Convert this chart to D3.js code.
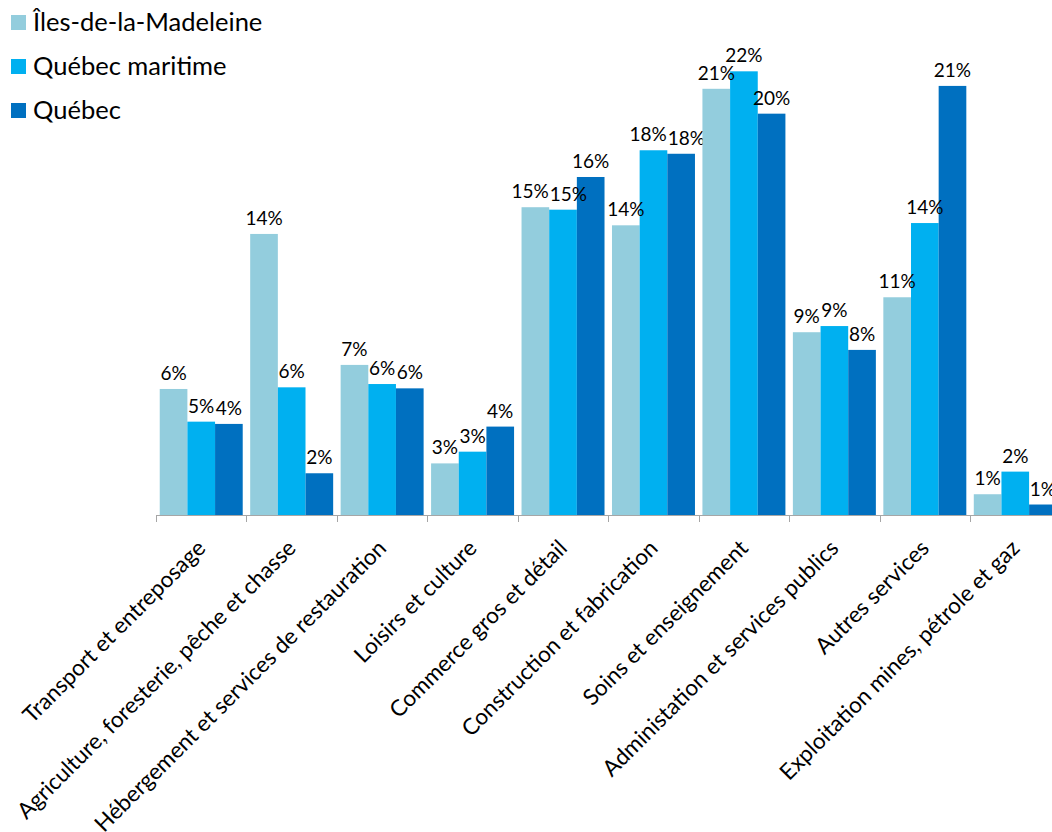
<!DOCTYPE html>
<html lang="fr">
<head>
<meta charset="utf-8">
<script src="https://cdn.jsdelivr.net/npm/d3@7"></script>
<style>
  html, body { margin: 0; padding: 0; background: #fff; }
  svg { display: block; }
  text { font-family: Lato, "Open Sans", sans-serif; fill: #000; }
</style>
</head>
<body>
<svg id="chart" width="1052" height="832"></svg>
<script>
// Répartition des emplois par secteur d'activité
const categories = [
  "Transport et entreposage",
  "Agriculture, foresterie, pêche et chasse",
  "Hébergement et services de restauration",
  "Loisirs et culture",
  "Commerce gros et détail",
  "Construction et fabrication",
  "Soins et enseignement",
  "Administation et services publics",
  "Autres services",
  "Exploitation mines, pétrole et gaz"
];
const seriesNames = ["Îles-de-la-Madeleine", "Québec maritime", "Québec"];

// Parts (%) par secteur
const ilesMadeleine = [6.13, 13.67, 7.30, 2.51, 14.97, 14.09, 20.73, 8.89, 10.59, 1.01];
const quebecMaritime = [4.54, 6.21, 6.37, 3.08, 14.85, 17.74, 21.58, 9.19, 14.20, 2.11];
const quebec = [4.43, 2.03, 6.16, 4.30, 16.44, 17.57, 19.52, 8.03, 20.87, 0.51];

const seriesValues = [ilesMadeleine, quebecMaritime, quebec];
const colors = ["#93CDDD", "#00B0F0", "#0070C0"];

const svg = d3.select("#chart");

const baseline = 515;
const x0 = d3.scaleBand()
  .domain(categories)
  .range([156, 156 + 90.45 * categories.length])
  .paddingInner(0)
  .paddingOuter(0);

const x1 = d3.scaleBand()
  .domain(seriesNames)
  .range([0, x0.bandwidth()])
  .paddingOuter(0.135);

const y = d3.scaleLinear().domain([0, 25]).range([baseline, 1]);

const fmt = v => d3.format(".0f")(v) + "%";
const labelSize = 19;

// Barres
const groups = svg.append("g").selectAll("g")
  .data(categories)
  .join("g")
  .attr("transform", d => `translate(${x0(d)},0)`);

const rowsFor = (c, i) => seriesNames.map((s, k) => ({ s, k, v: seriesValues[k][i] }));

groups.selectAll("rect")
  .data(rowsFor)
  .join("rect")
  .attr("x", d => x1(d.s))
  .attr("width", x1.bandwidth())
  .attr("y", d => y(d.v))
  .attr("height", d => baseline - y(d.v))
  .attr("fill", d => colors[d.k]);

// Étiquettes de valeurs, écartées horizontalement quand elles se chevauchent
groups.each(function (c, i) {
  const g = d3.select(this);
  const labels = g.selectAll("text.val")
    .data(rowsFor(c, i))
    .join("text")
    .attr("class", "val")
    .attr("x", d => x1(d.s) + x1.bandwidth() / 2)
    .attr("y", d => y(d.v) - 9)
    .attr("text-anchor", "middle")
    .style("font-size", labelSize + "px")
    .text(d => fmt(d.v));

  const nodes = labels.nodes();
  const boxes = nodes.map(n => {
    const w = n.getComputedTextLength();
    const cx = +n.getAttribute("x");
    return { n, cx, w, yb: +n.getAttribute("y") };
  });
  for (let pass = 0; pass < 3; pass++) {
    for (let j = 0; j < boxes.length - 1; j++) {
      const a = boxes[j], b = boxes[j + 1];
      if (Math.abs(a.yb - b.yb) >= labelSize * 0.8) continue;
      const overlap = (a.cx + a.w / 2 + 1) - (b.cx - b.w / 2);
      if (overlap > 0) {
        a.cx -= overlap / 2;
        b.cx += overlap / 2;
      }
    }
  }
  boxes.forEach(b => b.n.setAttribute("x", b.cx));
});

// Axe des catégories
const axis = svg.append("g");
axis.append("line")
  .attr("x1", x0.range()[0]).attr("x2", x0.range()[1])
  .attr("y1", baseline + 0.5).attr("y2", baseline + 0.5)
  .attr("stroke", "#a6a6a6").attr("stroke-width", 1);

const tickPos = categories.map(c => x0(c)).concat([x0.range()[1]]);
axis.selectAll("line.tick")
  .data(tickPos)
  .join("line")
  .attr("class", "tick")
  .attr("x1", d => Math.round(d) + 0.5).attr("x2", d => Math.round(d) + 0.5)
  .attr("y1", baseline).attr("y2", baseline + 7)
  .attr("stroke", "#a6a6a6").attr("stroke-width", 1);

axis.selectAll("text.cat")
  .data(categories)
  .join("text")
  .attr("class", "cat")
  .attr("transform", d => `translate(${x0(d) + x0.bandwidth() / 2},${baseline + 29}) rotate(-45)`)
  .attr("text-anchor", "end")
  .attr("dy", "0.35em")
  .style("font-size", "22.5px")
  .text(d => d);

// Légende
const legend = svg.append("g").selectAll("g")
  .data(seriesNames)
  .join("g")
  .attr("transform", (d, i) => `translate(11,${30.5 + i * 44})`);

legend.append("rect")
  .attr("x", 0).attr("y", -15.5)
  .attr("width", 15).attr("height", 15)
  .attr("fill", (d, i) => colors[i]);

legend.append("text")
  .attr("x", 22).attr("y", 0)
  .style("font-size", "25.5px")
  .text(d => d);
</script>
</body>
</html>
